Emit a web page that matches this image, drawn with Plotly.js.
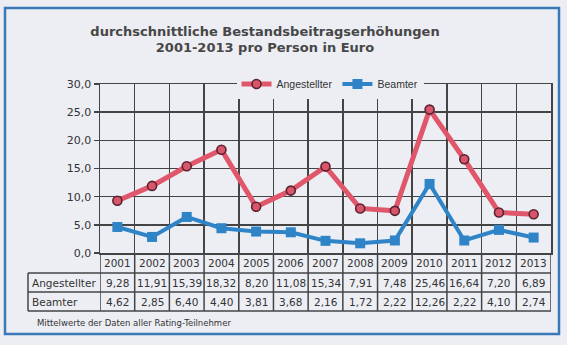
<!DOCTYPE html>
<html>
<head>
<meta charset="utf-8">
<script src="https://cdn.plot.ly/plotly-3.0.1.min.js"></script>
<style>
html,body{margin:0;padding:0;background:#eceef3;}
#chart{width:567px;height:345px;}
</style>
</head>
<body>
<div id="chart"></div>
<script>
const years = ['2001','2002','2003','2004','2005','2006','2007','2008','2009','2010','2011','2012','2013'];
const angestellter = [9.28, 11.91, 15.39, 18.32, 8.20, 11.08, 15.34, 7.91, 7.48, 25.46, 16.64, 7.20, 6.89];
const beamter = [4.62, 2.85, 6.40, 4.40, 3.81, 3.68, 2.16, 1.72, 2.22, 12.26, 2.22, 4.10, 2.74];
const seriesNames = ['Angestellter', 'Beamter'];
const titleText = '<b>durchschnittliche Bestandsbeitragserhöhungen<br>2001-2013 pro Person in Euro</b>';
const footnote = 'Mittelwerte der Daten aller Rating-Teilnehmer';

const W = 567, H = 345;
const L = 100, R = 551, T = 84, B = 253;
const pw = R - L, ph = B - T;
const px = x => (x - L) / pw;          // pixel -> paper x
const py = y => (B - y) / ph;          // pixel -> paper y

const bg = '#eceef3';
const gridC = '#444444';
const textC = '#333333';
const fmt = v => v.toFixed(2).replace('.', ',');

const traces = [
  {
    x: years, y: angestellter, name: seriesNames[0], type: 'scatter', mode: 'lines+markers',
    line: {color: '#e0566b', width: 5},
    marker: {symbol: 'circle', size: 9, color: '#d9566a', line: {color: '#5a2331', width: 1.6}},
    cliponaxis: false
  },
  {
    x: years, y: beamter, name: seriesNames[1], type: 'scatter', mode: 'lines+markers',
    line: {color: '#2f84c7', width: 4},
    marker: {symbol: 'square', size: 10, color: '#2f84c7'},
    cliponaxis: false
  }
];

const rowTop = B, row1 = 273, row2 = 292, row3 = 311, tableLeft = 28;
const shapes = [];
shapes.push({type:'rect', xref:'paper', yref:'paper', x0:px(5), x1:px(559), y0:py(8), y1:py(334),
  line:{color:'#3a79b7', width:2.5}, layer:'below'});
for (let k = 0; k <= years.length; k++) {
  shapes.push({type:'line', xref:'x', yref:'paper', x0:k-0.5, x1:k-0.5, y0:py(rowTop), y1:py(row3),
    line:{color:gridC, width:1.5}});
}
shapes.push({type:'line', xref:'paper', yref:'paper', x0:px(tableLeft), x1:px(tableLeft), y0:py(row1), y1:py(row3),
  line:{color:gridC, width:1.5}});
[row1, row2, row3].forEach(y => {
  shapes.push({type:'line', xref:'paper', yref:'paper', x0:px(tableLeft), x1:1, y0:py(y), y1:py(y),
    line:{color:gridC, width:1.5}});
});

const annotations = [];
const cellFont = {family:'DejaVu Sans, Verdana, sans-serif', size:10.5, color:textC};
years.forEach((yr, i) => {
  annotations.push({xref:'x', yref:'paper', x:i, y:py((rowTop+row1)/2), text:yr, showarrow:false,
    xanchor:'center', yanchor:'middle', font:cellFont});
  annotations.push({xref:'x', yref:'paper', x:i, y:py((row1+row2)/2), text:fmt(angestellter[i]), showarrow:false,
    xanchor:'center', yanchor:'middle', font:cellFont});
  annotations.push({xref:'x', yref:'paper', x:i, y:py((row2+row3)/2), text:fmt(beamter[i]), showarrow:false,
    xanchor:'center', yanchor:'middle', font:cellFont});
});
annotations.push({xref:'paper', yref:'paper', x:px(tableLeft+2), y:py((row1+row2)/2), text:seriesNames[0], showarrow:false,
  xanchor:'left', yanchor:'middle', font:cellFont});
annotations.push({xref:'paper', yref:'paper', x:px(tableLeft+2), y:py((row2+row3)/2), text:seriesNames[1], showarrow:false,
  xanchor:'left', yanchor:'middle', font:cellFont});
annotations.push({xref:'paper', yref:'paper', x:px(35), y:py(323), text:footnote, showarrow:false,
  xanchor:'left', yanchor:'middle', font:{family:'DejaVu Sans, Verdana, sans-serif', size:8.5, color:textC}});

const layout = {
  width: W, height: H,
  margin: {l: L, r: W - R, t: T, b: H - B, pad: 0},
  paper_bgcolor: bg, plot_bgcolor: bg,
  separators: ',.',
  title: {text: titleText, x: 265 / W, xref: 'container', xanchor: 'center',
    y: 1 - 35.5 / H, yref: 'container', yanchor: 'middle',
    font: {family: 'DejaVu Sans, Verdana, sans-serif', size: 13, color: '#474747'}},
  xaxis: {type: 'category', tickson: 'boundaries', showgrid: true, gridcolor: gridC, gridwidth: 1.5,
    showline: true, linecolor: gridC, linewidth: 1.5, mirror: true, showticklabels: false, ticks: '',
    range: [-0.5, years.length - 0.5], fixedrange: true, zeroline: false},
  yaxis: {range: [0, 30], dtick: 5, tick0: 0, tickformat: '.1f', showgrid: true, gridcolor: gridC, gridwidth: 1.5,
    showline: true, linecolor: gridC, linewidth: 1.5, mirror: true, ticks: 'outside', ticklen: 5, tickcolor: gridC,
    tickwidth: 1.5, zeroline: false,
    tickfont: {family: 'DejaVu Sans, Verdana, sans-serif', size: 11, color: textC}},
  legend: {orientation: 'h', x: px(330), xanchor: 'center', y: 1, yanchor: 'middle',
    bgcolor: bg, font: {family: 'Liberation Sans, Arial, sans-serif', size: 10.5, color: textC},
    itemwidth: 30, tracegroupgap: 0},
  shapes: shapes,
  annotations: annotations,
  showlegend: true
};

Plotly.newPlot('chart', traces, layout, {displayModeBar: false, staticPlot: true});
</script>
</body>
</html>
